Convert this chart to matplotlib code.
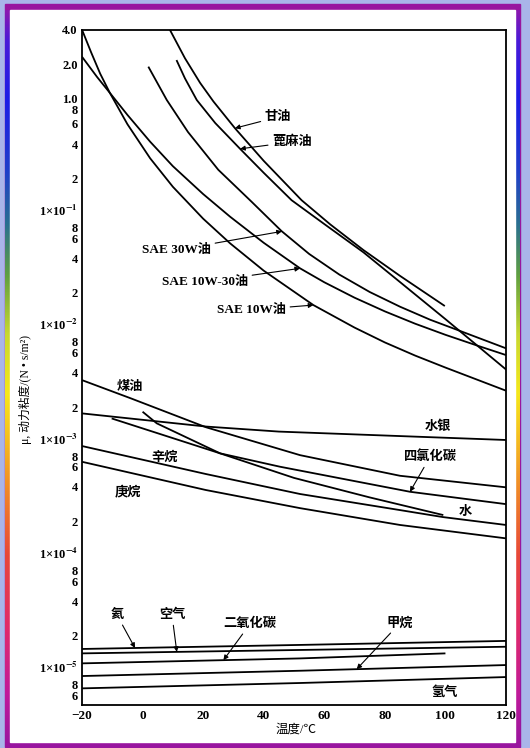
"""Dynamic viscosity of common fluids vs temperature."""
import matplotlib
matplotlib.use('Agg')
import matplotlib.pyplot as plt
import matplotlib.transforms as mtransforms
from matplotlib.colors import LinearSegmentedColormap
from matplotlib.patches import Rectangle
from matplotlib.ticker import NullLocator
import numpy as np

plt.rcParams['font.family'] = ['Liberation Serif', 'Noto Sans CJK SC']
plt.rcParams['mathtext.fontset'] = 'stix'
plt.rcParams['mathtext.default'] = 'bf'

# ---- data: temperature (degC), viscosity (N*s/m^2) ----
glycerin_t = [9, 14, 19, 23.4, 30.5, 40, 52.5, 62, 72.9, 85, 99.8]
glycerin_mu = [4.0, 2.25, 1.37, 0.942, 0.550, 0.285, 0.129, 0.0791, 0.0473, 0.0281, 0.0153]

castor_t = [11.2, 14, 17.9, 24, 32.2, 40, 49.2, 60, 72.9, 85, 100, 110, 120.2]
castor_mu = [2.17, 1.50, 0.970, 0.610, 0.363, 0.224, 0.129, 0.0798, 0.0452,
             0.0248, 0.01175, 0.00708, 0.00422]

sae30_t = [1.9, 8.0, 15, 25, 36, 45.9, 55, 65, 75, 85, 95, 105, 120]
sae30_mu = [1.90, 0.970, 0.509, 0.238, 0.125, 0.0692, 0.0437, 0.0288, 0.0203,
            0.0151, 0.0116, 0.00923, 0.00653]

sae10w30_t = [-20, -15, -10.8, -5, 2.5, 10, 20, 28.9, 40, 52, 60, 70, 80, 90, 100, 110, 120]
sae10w30_mu = [2.32, 1.54, 1.12, 0.719, 0.419, 0.256, 0.146, 0.0925, 0.0547, 0.0327,
               0.0247, 0.0181, 0.01374, 0.01072, 0.00857, 0.00697, 0.0057]

sae10w_t = [-20, -17, -14, -10.8, -5, 2.5, 10, 20, 28.9, 40, 56.4, 70, 80, 90, 100, 110, 120]
sae10w_mu = [4.0, 2.54, 1.65, 1.12, 0.596, 0.300, 0.169, 0.0889, 0.0541, 0.0312,
             0.0156, 0.00991, 0.00735, 0.00564, 0.00443, 0.00351, 0.00278]

kerosene_t = [-20, -4, 21, 52, 85, 120]
kerosene_mu = [3.44e-3, 2.39e-3, 1.33e-3, 7.59e-4, 5.01e-4, 3.97e-4]

mercury_t = [-20, 21, 45, 120]
mercury_mu = [1.76e-3, 1.35e-3, 1.22e-3, 1.03e-3]

ccl4_t = [-10.2, 25.6, 45.4, 88.3, 120]
ccl4_mu = [1.59e-3, 7.87e-4, 6.01e-4, 3.63e-4, 2.83e-4]

water_t = [0, 4.7, 25.6, 50, 75, 99.3]
water_mu = [1.82e-3, 1.44e-3, 7.87e-4, 4.8e-4, 3.24e-4, 2.27e-4]

octane_t = [-20, 20.9, 52, 85, 99.2, 120]
octane_mu = [9.12e-4, 5.19e-4, 3.47e-4, 2.51e-4, 2.18e-4, 1.86e-4]

heptane_t = [-20, 20.9, 52, 85, 120]
heptane_mu = [6.64e-4, 3.76e-4, 2.61e-4, 1.86e-4, 1.42e-4]

gas_t = [-20, 52, 120]
helium_mu = [1.53e-5, 1.66e-5, 1.80e-5]
air_mu = [1.40e-5, 1.50e-5, 1.60e-5]
methane_mu = [8.87e-6, 9.87e-6, 1.107e-5]
hydrogen_mu = [6.92e-6, 7.71e-6, 8.69e-6]
co2_t = [-20, 52, 100]
co2_mu = [1.145e-5, 1.265e-5, 1.40e-5]

ytick_vals = [4.0, 2.0, 1.0, 0.8, 0.6, 0.4, 0.2,
              1e-1, 8e-2, 6e-2, 4e-2, 2e-2,
              1e-2, 8e-3, 6e-3, 4e-3, 2e-3,
              1e-3, 8e-4, 6e-4, 4e-4, 2e-4,
              1e-4, 8e-5, 6e-5, 4e-5, 2e-5,
              1e-5, 8e-6, 6e-6]
ytick_labels = ['4.0', '2.0', '1.0', '8', '6', '4', '2',
                r'1×10$^{-1}$', '8', '6', '4', '2',
                r'1×10$^{-2}$', '8', '6', '4', '2',
                r'1×10$^{-3}$', '8', '6', '4', '2',
                r'1×10$^{-4}$', '8', '6', '4', '2',
                r'1×10$^{-5}$', '8', '6']
xtick_vals = [-20, 0, 20, 40, 60, 80, 100, 120]

W, H = 530, 748
fig = plt.figure(figsize=(W / 100, H / 100), dpi=100)
fig.patch.set_facecolor('#a9b5e9')

# decorative frame
bg = fig.add_axes([0, 0, 1, 1])
bg.axis('off')
bg.add_patch(Rectangle((5, 4), 515, 743, color='#98159f', zorder=1))
edge_cmap = LinearSegmentedColormap.from_list('edge', [
    (0.0, '#8a18b0'), (0.04, '#4a1ad8'), (0.12, '#1c1ce6'), (0.22, '#2040c8'),
    (0.29, '#2a7090'), (0.36, '#60a040'), (0.44, '#c8d830'), (0.52, '#f5e81a'),
    (0.58, '#f5c020'), (0.65, '#f08a28'), (0.74, '#e84838'), (0.84, '#e02a6a'),
    (0.93, '#c01a9a'), (1.0, '#98159f')])
grad = np.linspace(0, 1, 256).reshape(-1, 1)
for x0 in (5, 515):
    bg.imshow(grad, cmap=edge_cmap, extent=(x0, x0 + 5, 747, 10),
              aspect='auto', zorder=2)
bg.add_patch(Rectangle((10, 10), 505, 732, color='white', zorder=3))
bg.set_xlim(0, W)
bg.set_ylim(H, 0)

ax = fig.add_axes([82 / W, 1 - 704.5 / H, 424 / W, 674.8 / H])
ax.set_yscale('log')

curves = [(glycerin_t, glycerin_mu), (castor_t, castor_mu), (sae30_t, sae30_mu),
          (sae10w30_t, sae10w30_mu), (sae10w_t, sae10w_mu),
          (kerosene_t, kerosene_mu), (mercury_t, mercury_mu), (ccl4_t, ccl4_mu),
          (water_t, water_mu), (octane_t, octane_mu), (heptane_t, heptane_mu),
          (gas_t, helium_mu), (gas_t, air_mu), (co2_t, co2_mu),
          (gas_t, methane_mu), (gas_t, hydrogen_mu)]
for t, mu in curves:
    ax.plot(t, mu, color='black', lw=1.3, solid_capstyle='butt',
            solid_joinstyle='round')

ax.set_xlim(-20, 120)
ax.set_ylim(5e-6, 4.0)
ax.set_xticks(xtick_vals)
ax.set_xticklabels([f'{v}'.replace('-', '\u2212') for v in xtick_vals])
ax.set_yticks(ytick_vals)
ax.set_yticklabels(ytick_labels)
ax.yaxis.set_minor_locator(NullLocator())
ax.tick_params(axis='both', length=0, labelsize=9, colors='black')
ax.tick_params(axis='y', pad=3)
ax.tick_params(axis='x', pad=4, labelsize=9.5)
for lab in ax.get_xticklabels() + ax.get_yticklabels():
    lab.set_fontweight('bold')

# nudge the crowded decade labels apart from the '8' just below them
up = mtransforms.ScaledTranslation(0, 2 / 72, fig.dpi_scale_trans)
down = mtransforms.ScaledTranslation(0, -2.5 / 72, fig.dpi_scale_trans)
ylabs = ax.get_yticklabels()
for i, txt in enumerate(ytick_labels):
    if txt.startswith('1×'):
        ylabs[i].set_transform(ylabs[i].get_transform() + up)
        ylabs[i + 1].set_transform(ylabs[i + 1].get_transform() + down)
for s in ax.spines.values():
    s.set_linewidth(1.3)


def on_curve(t, mu, x):
    return x, 10 ** np.interp(x, t, np.log10(mu))


def fp(x, y):
    return (x, H - y)


arrow = dict(arrowstyle='-|>', color='black', lw=0.8, mutation_scale=7,
             shrinkA=1, shrinkB=0)

# labels with arrows: (text, curve, head temperature, text pixel pos, ha)
arrow_labels = [
    ('甘油', glycerin_t, glycerin_mu, 30.5, (278, 117), 'center'),
    ('蓖麻油', castor_t, castor_mu, 32.2, (292, 142), 'center'),
    ('SAE 30W油', sae30_t, sae30_mu, 46.0, (211, 250), 'right'),
    ('SAE 10W-30油', sae10w30_t, sae10w30_mu, 52.0, (248, 282), 'right'),
    ('SAE 10W油', sae10w_t, sae10w_mu, 56.4, (286, 310), 'right'),
    ('四氯化碳', ccl4_t, ccl4_mu, 88.3, (430, 457), 'center'),
    ('氦', gas_t, helium_mu, -2.5, (117, 615), 'center'),
    ('空气', gas_t, air_mu, 11.3, (172, 615), 'center'),
    ('二氧化碳', co2_t, co2_mu, 26.7, (250, 624), 'center'),
    ('甲烷', gas_t, methane_mu, 70.7, (400, 623), 'center'),
]
for txt, t, mu, x, pos, ha in arrow_labels:
    ax.annotate(txt, xy=on_curve(t, mu, x), xycoords='data',
                xytext=fp(*pos), textcoords='figure pixels',
                ha=ha, va='center', fontsize=9.5, fontweight='bold',
                arrowprops=arrow)

plain_labels = [('煤油', (130, 387)), ('水银', (438, 427)), ('辛烷', (165, 457)),
                ('庚烷', (128, 493)), ('水', (465, 512)), ('氢气', (445, 692))]
for txt, pos in plain_labels:
    ax.annotate(txt, xy=fp(*pos), xycoords='figure pixels',
                ha='center', va='center', fontsize=9.5, fontweight='bold')

fig.text(296 / W, 1 - 730 / H, '温度/℃', ha='center', va='center', fontsize=9)
fig.text(25 / W, 1 - 390 / H, 'μ, 动力粘度/(N • s/m²)', rotation=90,
         ha='center', va='center', fontsize=8.5)

fig.savefig('out.png', dpi=100)
